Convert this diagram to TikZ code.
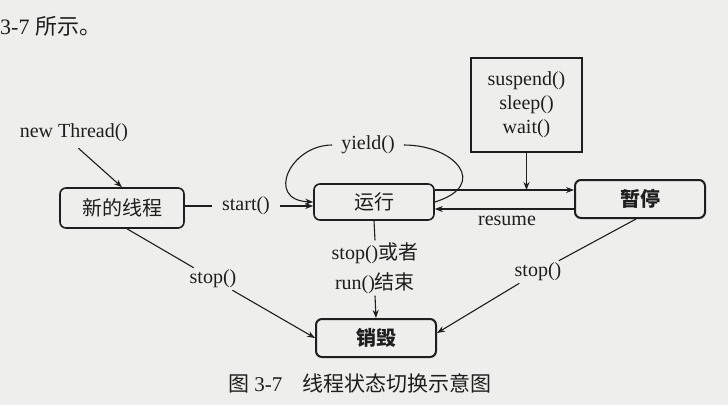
\documentclass[tikz,border=0pt]{standalone}
\usepackage{fontspec}
\setmainfont{Liberation Serif}
\newfontfamily\zhfont{Noto Sans CJK SC}
\newcommand\zhtext[1]{{\zhfont #1}}
\usetikzlibrary{arrows.meta}
\definecolor{ink}{RGB}{30,30,30}
\definecolor{paper}{RGB}{238,238,236}
\tikzset{
  state/.style={draw=ink, rounded corners=6pt, line width=1.6pt, inner sep=0pt, text=ink,
    font=\zhfont\fontsize{20}{24}\selectfont},
  boldstate/.style={state, line width=2pt, font=\zhfont\bfseries\fontsize{20}{24}\selectfont},
  lbl/.style={font=\fontsize{20}{24}\selectfont, text=ink, inner sep=2pt},
  conn/.style={draw=ink, line width=1.1pt},
  arr/.style={conn, -{Stealth[length=8pt,width=6pt]}},
}
\begin{document}
\begin{tikzpicture}[x=1pt,y=-1pt]
\fill[paper] (0,0) rectangle (728,405);
\useasboundingbox (0,0) rectangle (728,405);

% text above
\node[anchor=west, inner sep=0pt, text=ink, font=\fontsize{22}{26}\selectfont] (top) at (0,26) {3-7 \zhtext{所示。}};

% states
\node[state, minimum width=124pt, minimum height=40pt] (n1) at (122,208) {新的线程};
\node[state, minimum width=120pt, minimum height=36pt] (n2) at (374,202) {运行};
\node[boldstate, minimum width=130pt, minimum height=38pt] (n3) at (640,199) {暂停};
\node[boldstate, minimum width=120pt, minimum height=38pt] (n4) at (376,338) {销毁};
\node[draw=ink, line width=2.5pt, minimum width=111pt, minimum height=94pt, align=center,
      inner sep=0pt, text=ink, font=\fontsize{20}{24}\selectfont] (box) at (526.5,105) {suspend()\\sleep()\\wait()};

% labels
\node[lbl] (nt) at (74,133) {new Thread()};
\node[lbl, inner xsep=10pt] (st) at (246,206) {start()};
\node[lbl] (yl) at (368,145) {yield()};
\node[lbl] (rs) at (507,221) {resume};
\node[lbl, align=center, font=\fontsize{20}{30}\selectfont] (sr) at (375,268) {stop()\zhtext{或者}\\run()\zhtext{结束}};
\node[lbl] (sL) at (213,279) {stop()};
\node[lbl] (sR) at (538,272) {stop()};

% connectors
\draw[arr, shorten <=6pt] (nt.south) -- (n1.north);
\draw[conn] (n1.east |- st) -- (st.west);
\draw[arr] (st.east) -- (n2.west |- st);
\draw[arr] ([xshift=-7pt]yl.west) .. controls (290,145) and (265,200) .. (n2.west);
\draw[conn] ([xshift=7pt]yl.east) .. controls (455,145) and (490,185) .. (n2.east);
\draw[arr] (n2.east |- 0,190) -- (n3.west |- 0,190);
\draw[arr] (n3.west |- 0,209) -- (n2.east |- 0,209);
\draw[arr] (box.south) -- (box.south |- 0,190);
\draw[conn] (n2.south) -- (sr.north);
\draw[arr] (sr.south) -- (n4.north);
\draw[conn] ([xshift=5pt]n1.south) -- (sL);
\draw[arr] (sL) -- (n4.west);
\draw[conn] ([xshift=-4pt]n3.south) -- (sR);
\draw[arr] (sR) -- ([yshift=5pt]n4.east);

% caption
\node[anchor=west, inner sep=0pt, text=ink, font=\fontsize{21}{25}\selectfont] (cap) at (228,383)
  {\zhtext{图} 3-7\hspace{20pt}\zhtext{线程状态切换示意图}};
\end{tikzpicture}
\end{document}
